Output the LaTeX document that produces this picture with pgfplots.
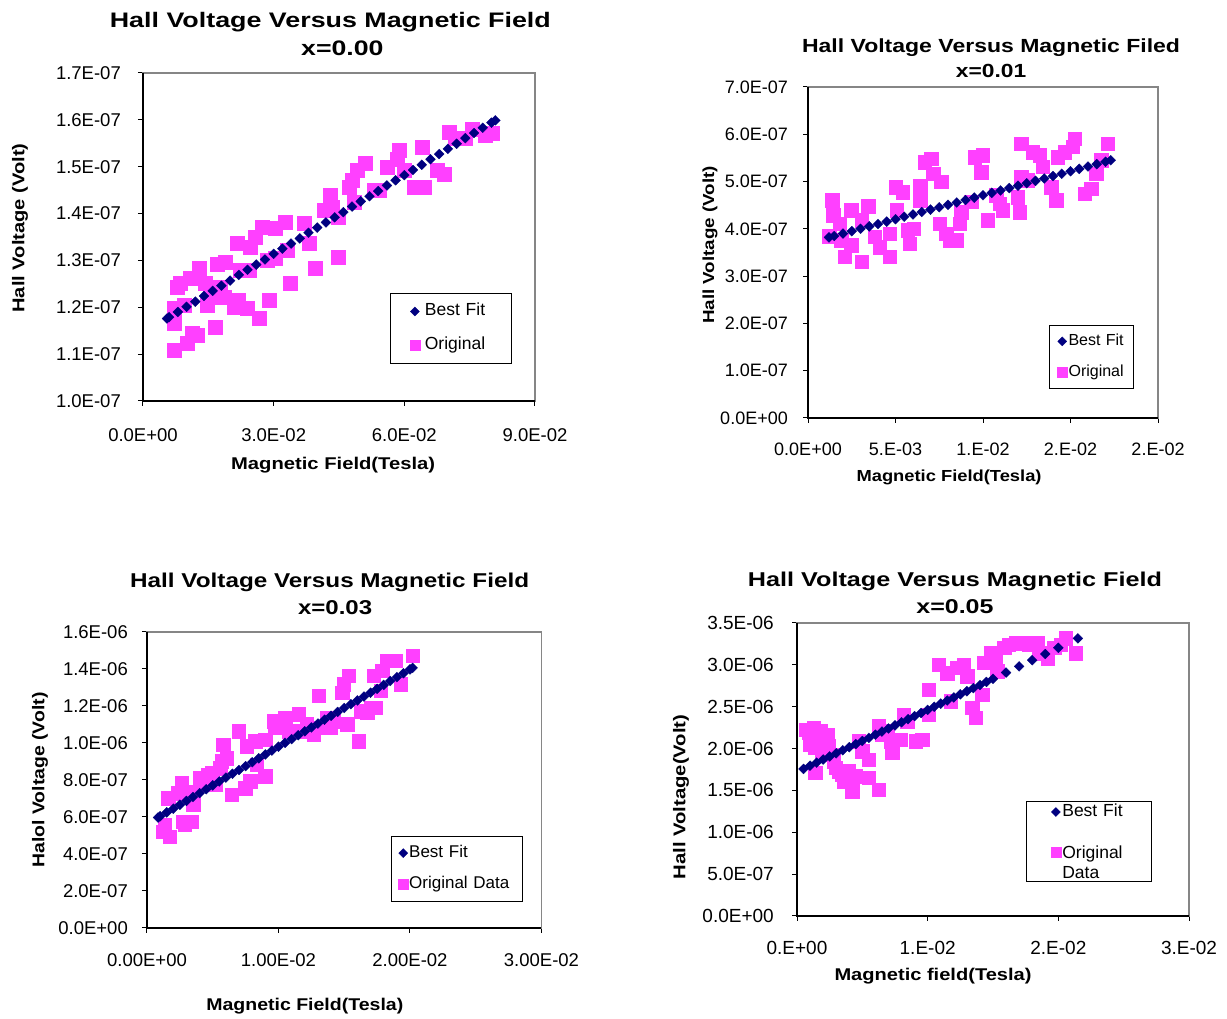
\documentclass[border=0pt]{standalone}
\usepackage{fontspec}
\setmainfont{Liberation Sans}
\usepackage{graphicx}
\usepackage{pgfplots}
\pgfplotsset{compat=1.18}
\definecolor{navyfit}{HTML}{000080}
\definecolor{pinkorig}{HTML}{FF40FF}
\definecolor{framegray}{HTML}{868686}
\newcommand{\rs}[3]{\resizebox{#1pt}{\height}{\fontsize{#2}{#2}\selectfont\bfseries #3}}
\newcommand{\sx}[3]{\scalebox{#1}[1]{\fontsize{#2}{#2}\selectfont\bfseries #3}}
\pgfplotsset{
  excel/.style={
    scale only axis,
    tick align=outside,
    xtick pos=bottom, ytick pos=left,
    major tick length=5pt,
    tick style={black, line width=1pt},
    axis line style={draw=framegray, line width=1.6pt},
    after end axis/.code={\draw[black,line width=1.2pt] (rel axis cs:0,1) -- (rel axis cs:0,0) -- (rel axis cs:1,0);},
    scaled x ticks=false, scaled y ticks=false,
    title style={align=center, anchor=center},
    xlabel style={anchor=center},
    ylabel style={anchor=center},
    yticklabel style={anchor=east, inner sep=0pt},
    xticklabel style={anchor=center, inner sep=0pt},
    legend cell align=left,
    reverse legend,
    legend style={draw=black, line width=0.8pt, fill=white},
  },
  fitp/.style={only marks, mark=square*, mark size=3.5pt,
    mark options={rotate=45, fill=navyfit, draw=navyfit, line width=0.3pt},
    legend image post style={mark size=3.2pt}},
  origp/.style={only marks, mark=square*, mark size=#1,
    mark options={fill=pinkorig, draw=pinkorig, line width=0.3pt},
    legend image post style={mark size=5pt}},
}
\begin{document}
\begin{tikzpicture}
\path[use as bounding box, fill=white] (0pt,0pt) rectangle (1227pt,1019pt);

% ---------------- Panel 1 : x = 0.00 ----------------
\begin{axis}[excel,
  at={(143pt,618pt)}, anchor=south west,
  width=392pt, height=328pt,
  xmin=0, xmax=0.09, ymin=1.0e-7, ymax=1.7e-7,
  xtick={0,0.03,0.06,0.09},
  xticklabels={0.0E+00,3.0E-02,6.0E-02,9.0E-02},
  ytick={1.0e-7,1.1e-7,1.2e-7,1.3e-7,1.4e-7,1.5e-7,1.6e-7,1.7e-7},
  yticklabels={1.0E-07,1.1E-07,1.2E-07,1.3E-07,1.4E-07,1.5E-07,1.6E-07,1.7E-07},
  tick label style={font=\fontsize{18.5}{20}\selectfont},
  xticklabel style={yshift=-29pt},
  yticklabel style={xshift=-17pt},
  title={\rs{441}{21}{Hall Voltage Versus Magnetic Field}\\\hspace*{24pt}\sx{1.27}{21}{x=0.00}},
  title style={at={(axis description cs:0.478,1.101)}, font=\fontsize{21}{28}\selectfont},
  xlabel={\rs{204}{17}{Magnetic Field(Tesla)}},
  xlabel style={at={(axis description cs:0.485,-0.195)}},
  ylabel={\rs{169}{17}{Hall Voltage (Volt)}},
  ylabel style={at={(axis description cs:-0.314,0.527)}},
  legend style={at={(axis description cs:0.630,0.329)}, anchor=north west,
    inner xsep=19.5pt, inner ysep=6.5pt, row sep=11pt,
    font=\fontsize{17.5}{20}\selectfont,
    nodes={inner xsep=5pt, inner ysep=3pt, text width=62pt, text height=13pt, text depth=4pt}},
]
\addplot[origp=7pt] table {
x y
0.00704 1.109e-7
0.00704 1.166e-7
0.0101 1.123e-7
0.01125 1.144e-7
0.0124 1.141e-7
0.00704 1.198e-7
0.00934 1.205e-7
0.0078 1.244e-7
0.00857 1.251e-7
0.01087 1.262e-7
0.01278 1.283e-7
0.01431 1.251e-7
0.0147 1.205e-7
0.0166 1.158e-7
0.01546 1.222e-7
0.01699 1.293e-7
0.0189 1.297e-7
0.01776 1.244e-7
0.01852 1.222e-7
0.02082 1.201e-7
0.02196 1.215e-7
0.02158 1.336e-7
0.02235 1.279e-7
0.02426 1.279e-7
0.02388 1.198e-7
0.02464 1.329e-7
0.02579 1.350e-7
0.02656 1.176e-7
0.02732 1.372e-7
0.02847 1.301e-7
0.02885 1.215e-7
0.03038 1.368e-7
0.03038 1.304e-7
0.03268 1.382e-7
0.03306 1.322e-7
0.03383 1.251e-7
0.03689 1.379e-7
0.03804 1.336e-7
0.03957 1.283e-7
0.04148 1.407e-7
0.04301 1.439e-7
0.04339 1.414e-7
0.04492 1.393e-7
0.04492 1.308e-7
0.04722 1.457e-7
0.04798 1.471e-7
0.04837 1.425e-7
0.04913 1.492e-7
0.05104 1.507e-7
0.05296 1.450e-7
0.05411 1.450e-7
0.05602 1.500e-7
0.05832 1.517e-7
0.0587 1.535e-7
0.05985 1.492e-7
0.06214 1.457e-7
0.06406 1.542e-7
0.06444 1.457e-7
0.0675 1.492e-7
0.06903 1.485e-7
0.07018 1.574e-7
0.07171 1.560e-7
0.074 1.560e-7
0.07553 1.581e-7
0.0786 1.567e-7
0.08013 1.571e-7
};
\addlegendentry{Original}
\addplot[fitp] table {
x y
0.0055 1.176e-7
0.006 1.179e-7
0.008 1.190e-7
0.010 1.201e-7
0.012 1.212e-7
0.014 1.224e-7
0.016 1.235e-7
0.018 1.246e-7
0.020 1.257e-7
0.022 1.269e-7
0.024 1.280e-7
0.026 1.291e-7
0.028 1.302e-7
0.030 1.314e-7
0.032 1.325e-7
0.034 1.336e-7
0.036 1.347e-7
0.038 1.359e-7
0.040 1.370e-7
0.042 1.381e-7
0.044 1.392e-7
0.046 1.403e-7
0.048 1.415e-7
0.050 1.426e-7
0.052 1.437e-7
0.054 1.448e-7
0.056 1.460e-7
0.058 1.471e-7
0.060 1.482e-7
0.062 1.493e-7
0.064 1.504e-7
0.066 1.516e-7
0.068 1.527e-7
0.070 1.538e-7
0.072 1.549e-7
0.074 1.561e-7
0.076 1.572e-7
0.078 1.583e-7
0.080 1.594e-7
0.0809 1.599e-7
};
\addlegendentry{Best Fit}
\end{axis}

% ---------------- Panel 2 : x = 0.01 ----------------
\begin{axis}[excel,
  at={(808pt,601pt)}, anchor=south west,
  width=350pt, height=331pt,
  xmin=0, xmax=0.02, ymin=0, ymax=7.0e-7,
  xtick={0,0.005,0.01,0.015,0.02},
  xticklabels={0.0E+00,5.E-03,1.E-02,2.E-02,2.E-02},
  ytick={0,1e-7,2e-7,3e-7,4e-7,5e-7,6e-7,7e-7},
  yticklabels={0.0E+00,1.0E-07,2.0E-07,3.0E-07,4.0E-07,5.0E-07,6.0E-07,7.0E-07},
  tick label style={font=\fontsize{18}{20}\selectfont},
  xticklabel style={yshift=-26pt},
  yticklabel style={xshift=-15pt},
  title={\rs{378}{19}{Hall Voltage Versus Magnetic Filed}\\\sx{1.2}{19}{x=0.01}},
  title style={at={(axis description cs:0.523,1.068)}, font=\fontsize{19}{25}\selectfont},
  xlabel={\rs{185}{16}{Magnetic Field(Tesla)}},
  xlabel style={at={(axis description cs:0.403,-0.178)}},
  ylabel={\rs{158}{16}{Hall Voltage (Volt)}},
  ylabel style={at={(axis description cs:-0.28,0.523)}},
  legend style={at={(axis description cs:0.689,0.281)}, anchor=north west,
    inner xsep=7.7pt, inner ysep=8.25pt, row sep=15.5pt,
    font=\fontsize{16}{18}\selectfont,
    nodes={inner xsep=1.3pt, inner ysep=0pt, text width=56pt, text height=12pt, text depth=3.5pt}},
]
\addplot[origp=6.7pt] table {
x y
0.00120 3.843e-7
0.00139 4.604e-7
0.00143 4.287e-7
0.00181 4.111e-7
0.00190 3.758e-7
0.00209 3.406e-7
0.00247 4.393e-7
0.00247 3.653e-7
0.00305 4.181e-7
0.00308 3.300e-7
0.00343 4.477e-7
0.00381 3.829e-7
0.00409 3.617e-7
0.00466 3.406e-7
0.00466 3.899e-7
0.00501 4.886e-7
0.00508 4.393e-7
0.00542 4.780e-7
0.00571 3.970e-7
0.00581 3.688e-7
0.00603 4.005e-7
0.00641 4.604e-7
0.00641 4.900e-7
0.00666 5.414e-7
0.00704 5.485e-7
0.00714 5.168e-7
0.00761 4.992e-7
0.00752 4.111e-7
0.00790 3.899e-7
0.00809 3.758e-7
0.00847 3.758e-7
0.00866 4.111e-7
0.00876 4.357e-7
0.00933 4.569e-7
0.00952 5.520e-7
0.00999 5.555e-7
0.00990 5.203e-7
0.01028 4.181e-7
0.01075 4.710e-7
0.01094 4.533e-7
0.01113 4.393e-7
0.01199 4.674e-7
0.01209 4.357e-7
0.01218 5.097e-7
0.01218 5.802e-7
0.01256 5.027e-7
0.01285 5.626e-7
0.01323 5.555e-7
0.01342 5.309e-7
0.01389 4.886e-7
0.01418 4.604e-7
0.01427 5.520e-7
0.01466 5.626e-7
0.01523 5.908e-7
0.01513 5.732e-7
0.0158 4.745e-7
0.01618 4.851e-7
0.01646 5.168e-7
0.01675 5.450e-7
0.01713 5.802e-7
};
\addlegendentry{Original}
\addplot[fitp] table {
x y
0.0012 3.82e-7
0.0015 3.849e-7
0.0020 3.900e-7
0.0025 3.951e-7
0.0030 4.001e-7
0.0035 4.052e-7
0.0040 4.103e-7
0.0045 4.153e-7
0.0050 4.204e-7
0.0055 4.255e-7
0.0060 4.305e-7
0.0065 4.356e-7
0.0070 4.407e-7
0.0075 4.457e-7
0.0080 4.508e-7
0.0085 4.558e-7
0.0090 4.609e-7
0.0095 4.660e-7
0.0100 4.710e-7
0.0105 4.761e-7
0.0110 4.812e-7
0.0115 4.862e-7
0.0120 4.913e-7
0.0125 4.964e-7
0.0130 5.014e-7
0.0135 5.065e-7
0.0140 5.116e-7
0.0145 5.166e-7
0.0150 5.217e-7
0.0155 5.268e-7
0.0160 5.318e-7
0.0165 5.369e-7
0.0170 5.420e-7
0.0173 5.450e-7
};
\addlegendentry{Best Fit}
\end{axis}

% ---------------- Panel 3 : x = 0.03 ----------------
\begin{axis}[excel,
  at={(147pt,91pt)}, anchor=south west,
  width=394.5pt, height=296pt,
  xmin=0, xmax=0.03, ymin=0, ymax=1.6e-6,
  xtick={0,0.01,0.02,0.03},
  xticklabels={0.00E+00,1.00E-02,2.00E-02,3.00E-02},
  ytick={0,2e-7,4e-7,6e-7,8e-7,1.0e-6,1.2e-6,1.4e-6,1.6e-6},
  yticklabels={0.0E+00,2.0E-07,4.0E-07,6.0E-07,8.0E-07,1.0E-06,1.2E-06,1.4E-06,1.6E-06},
  tick label style={font=\fontsize{18.5}{20}\selectfont},
  xticklabel style={yshift=-27pt},
  yticklabel style={xshift=-14pt},
  title={\rs{399}{20}{Hall Voltage Versus Magnetic Field}\\\hspace*{11pt}\sx{1.2}{20}{x=0.03}},
  title style={at={(axis description cs:0.463,1.110)}, font=\fontsize{20}{27}\selectfont},
  xlabel={\rs{197}{17}{Magnetic Field(Tesla)}},
  xlabel style={at={(axis description cs:0.40,-0.264)}},
  ylabel={\rs{175}{17}{Halol Voltage (Volt)}},
  ylabel style={at={(axis description cs:-0.271,0.5)}},
  legend style={at={(axis description cs:0.618,0.311)}, anchor=north west,
    inner xsep=7pt, inner ysep=8.7pt, row sep=15pt,
    font=\fontsize{17}{19}\selectfont,
    nodes={inner xsep=1pt, inner ysep=0pt, text width=105pt, text height=12.5pt, text depth=3.7pt}},
]
\addplot[origp=6.7pt] table {
x y
0.00122 0.521e-6
0.00173 0.493e-6
0.00135 0.557e-6
0.0016 0.702e-6
0.00237 0.729e-6
0.00262 0.783e-6
0.00275 0.575e-6
0.00288 0.557e-6
0.00338 0.575e-6
0.00351 0.666e-6
0.00351 0.738e-6
0.00402 0.811e-6
0.0044 0.774e-6
0.00466 0.829e-6
0.00491 0.838e-6
0.00517 0.774e-6
0.00555 0.865e-6
0.00567 0.901e-6
0.0058 0.992e-6
0.00606 0.919e-6
0.00644 0.720e-6
0.00695 1.065e-6
0.00746 0.756e-6
0.00758 0.983e-6
0.00784 0.793e-6
0.00822 1.010e-6
0.00835 0.883e-6
0.00898 1.019e-6
0.00898 0.820e-6
0.00962 1.119e-6
0.00975 1.083e-6
0.01013 1.101e-6
0.01051 1.137e-6
0.01076 1.065e-6
0.01153 1.155e-6
0.01165 1.065e-6
0.01216 1.101e-6
0.01267 1.046e-6
0.01318 1.083e-6
0.01305 1.255e-6
0.01369 1.137e-6
0.01394 1.083e-6
0.0142 1.119e-6
0.01483 1.273e-6
0.01496 1.318e-6
0.01522 1.101e-6
0.01534 1.364e-6
0.01611 1.010e-6
0.01623 1.173e-6
0.01674 1.164e-6
0.017 1.191e-6
0.01725 1.364e-6
0.01738 1.191e-6
0.01776 1.282e-6
0.01789 1.391e-6
0.01827 1.445e-6
0.01891 1.445e-6
0.01929 1.318e-6
0.02018 1.473e-6
};
\addlegendentry{Original Data}
\addplot[fitp] table {
x y
0.00084 0.597e-6
0.0010 0.604e-6
0.0015 0.625e-6
0.0020 0.645e-6
0.0025 0.666e-6
0.0030 0.687e-6
0.0035 0.708e-6
0.0040 0.729e-6
0.0045 0.750e-6
0.0050 0.771e-6
0.0055 0.792e-6
0.0060 0.813e-6
0.0065 0.834e-6
0.0070 0.854e-6
0.0075 0.875e-6
0.0080 0.896e-6
0.0085 0.917e-6
0.0090 0.938e-6
0.0095 0.959e-6
0.0100 0.980e-6
0.0105 1.001e-6
0.0110 1.021e-6
0.0115 1.042e-6
0.0120 1.063e-6
0.0125 1.084e-6
0.0130 1.105e-6
0.0135 1.126e-6
0.0140 1.147e-6
0.0145 1.168e-6
0.0150 1.189e-6
0.0155 1.210e-6
0.0160 1.230e-6
0.0165 1.251e-6
0.0170 1.272e-6
0.0175 1.293e-6
0.0180 1.314e-6
0.0185 1.335e-6
0.0190 1.356e-6
0.0195 1.377e-6
0.0200 1.398e-6
0.0202 1.406e-6
};
\addlegendentry{Best Fit}
\end{axis}

% ---------------- Panel 4 : x = 0.05 ----------------
\begin{axis}[excel,
  at={(797pt,103pt)}, anchor=south west,
  width=392pt, height=293pt,
  xmin=0, xmax=0.03, ymin=0, ymax=3.5e-6,
  xtick={0,0.01,0.02,0.03},
  xticklabels={0.E+00,1.E-02,2.E-02,3.E-02},
  ytick={0,5e-7,1.0e-6,1.5e-6,2.0e-6,2.5e-6,3.0e-6,3.5e-6},
  yticklabels={0.0E+00,5.0E-07,1.0E-06,1.5E-06,2.0E-06,2.5E-06,3.0E-06,3.5E-06},
  tick label style={font=\fontsize{19}{20}\selectfont},
  xticklabel style={yshift=-27pt},
  yticklabel style={xshift=-18pt},
  title={\rs{414}{20}{Hall Voltage Versus Magnetic Field}\\\sx{1.25}{20}{x=0.05}},
  title style={at={(axis description cs:0.403,1.081)}, font=\fontsize{20}{27}\selectfont},
  xlabel={\rs{197}{17}{Magnetic field(Tesla)}},
  xlabel style={at={(axis description cs:0.347,-0.205)}},
  ylabel={\rs{165}{17}{Hall Voltage(Volt)}},
  ylabel style={at={(axis description cs:-0.296,0.406)}},
  legend style={at={(axis description cs:0.584,0.392)}, anchor=north west,
    inner xsep=24.5pt, inner ysep=2pt, row sep=4.5pt,
    font=\fontsize{17.5}{20.7}\selectfont,
    nodes={inner xsep=1.5pt, inner ysep=0pt, text width=63pt, text height=13pt, text depth=4pt}},
]
\addplot[origp=6.7pt] table {
x y
0.00064 2.227e-6
0.00089 2.187e-6
0.00128 2.247e-6
0.00153 2.128e-6
0.00179 2.207e-6
0.00204 2.088e-6
0.0023 2.167e-6
0.00102 2.048e-6
0.0014 2.008e-6
0.00192 1.969e-6
0.00243 2.028e-6
0.00268 1.929e-6
0.00281 1.849e-6
0.00294 1.770e-6
0.00319 1.730e-6
0.00345 1.690e-6
0.00358 1.611e-6
0.00396 1.730e-6
0.00421 1.491e-6
0.00447 1.670e-6
0.00473 2.088e-6
0.00498 1.969e-6
0.00549 1.869e-6
0.00549 1.650e-6
0.00626 1.511e-6
0.00626 2.267e-6
0.00651 2.167e-6
0.0069 2.207e-6
0.00715 2.088e-6
0.00728 1.949e-6
0.00792 2.108e-6
0.00817 2.406e-6
0.00843 2.327e-6
0.00907 2.088e-6
0.00958 2.108e-6
0.01009 2.704e-6
0.01009 2.406e-6
0.01086 3.003e-6
0.01149 2.903e-6
0.01175 2.565e-6
0.01226 2.963e-6
0.01277 3.003e-6
0.01303 2.864e-6
0.01341 2.486e-6
0.01367 2.366e-6
0.01418 2.645e-6
0.0143 3.023e-6
0.01481 3.142e-6
0.0152 3.082e-6
0.01533 2.923e-6
0.01584 3.202e-6
0.01622 3.241e-6
0.01673 3.261e-6
0.01737 3.261e-6
0.01775 3.241e-6
0.01839 3.261e-6
0.01852 3.142e-6
0.01916 3.082e-6
0.01967 3.202e-6
0.02018 3.241e-6
0.02056 3.321e-6
0.02133 3.142e-6
0.0014 1.710e-6
};
\addlegendentry[text height=33pt, text depth=21pt]{Original Data}
\addplot[fitp] table {
x y
0.0005 1.757e-6
0.0010 1.795e-6
0.0015 1.832e-6
0.0020 1.869e-6
0.0025 1.906e-6
0.0030 1.943e-6
0.0035 1.980e-6
0.0040 2.017e-6
0.0045 2.054e-6
0.0050 2.091e-6
0.0055 2.128e-6
0.0060 2.166e-6
0.0065 2.203e-6
0.0070 2.240e-6
0.0075 2.277e-6
0.0080 2.314e-6
0.0085 2.351e-6
0.0090 2.388e-6
0.0095 2.425e-6
0.0100 2.462e-6
0.0105 2.499e-6
0.0110 2.537e-6
0.0115 2.574e-6
0.0120 2.611e-6
0.0125 2.648e-6
0.0130 2.685e-6
0.0135 2.722e-6
0.0140 2.759e-6
0.0145 2.796e-6
0.0150 2.833e-6
0.0160 2.908e-6
0.0170 2.982e-6
0.0180 3.056e-6
0.0190 3.130e-6
0.0200 3.204e-6
0.0215 3.316e-6
};
\addlegendentry{Best Fit}
\end{axis}
\end{tikzpicture}
\end{document}
